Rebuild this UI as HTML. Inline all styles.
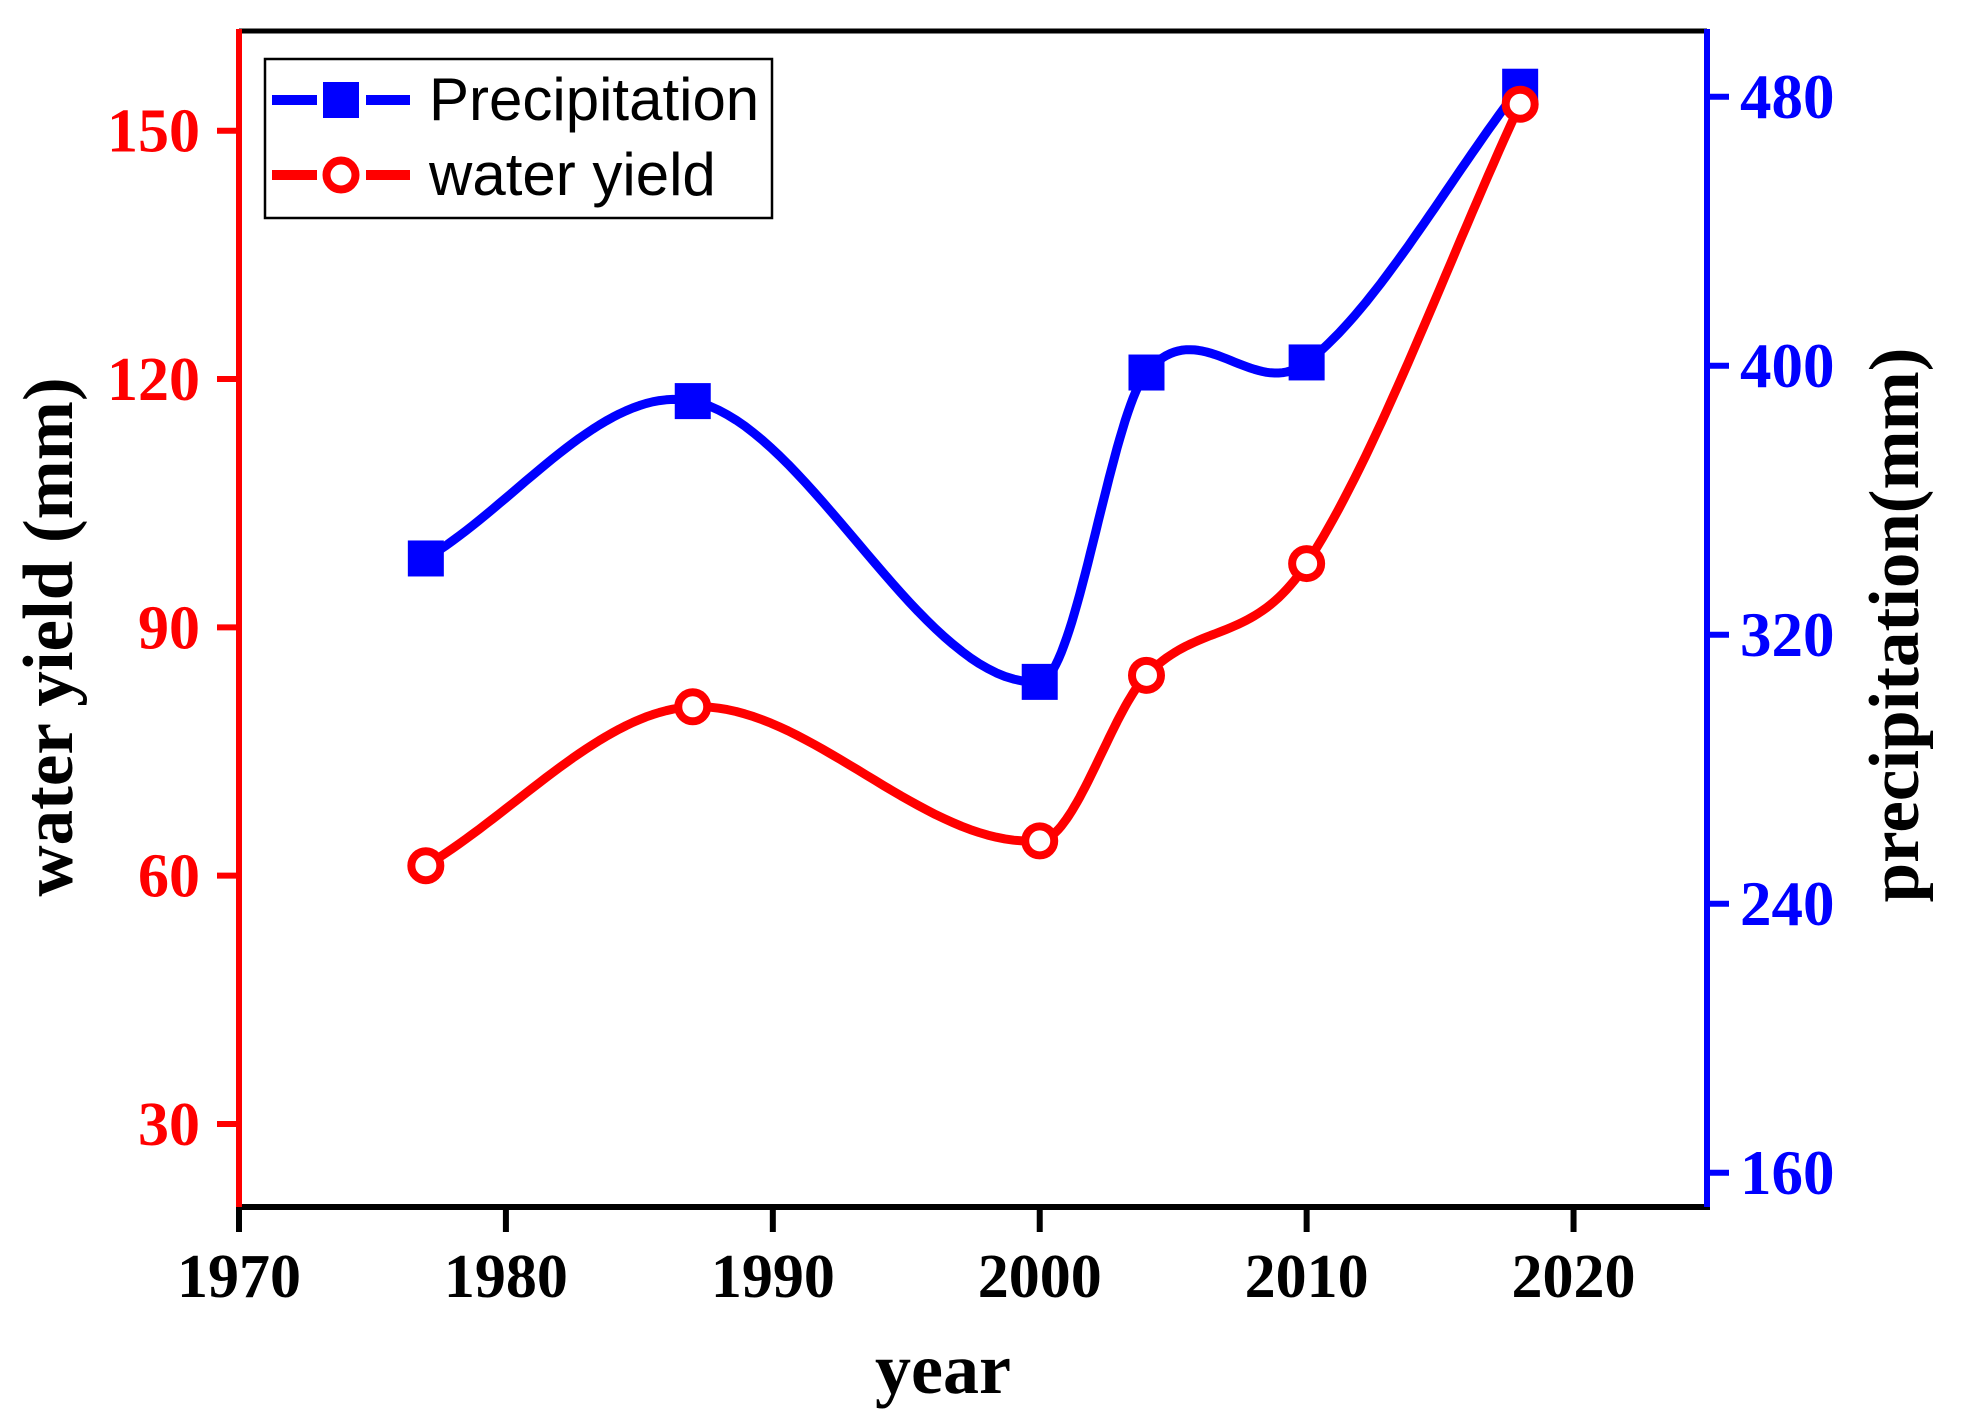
<!DOCTYPE html>
<html><head><meta charset="utf-8"><style>
html,body{margin:0;padding:0;background:#fff;}
svg{display:block;}
</style></head><body>
<svg id="chart" width="1970" height="1426" viewBox="0 0 1970 1426" xmlns="http://www.w3.org/2000/svg"></svg>
<script>
const years = [1977, 1987, 2000, 2004, 2010, 2018];
const precipitation = [342.7, 389.5, 306, 398, 401, 483];
const waterYield = [61.2, 80.4, 64.2, 84.2, 97.7, 153.2];
const xTicks = [1970, 1980, 1990, 2000, 2010, 2020];
const leftTicks = [30, 60, 90, 120, 150];
const rightTicks = [160, 240, 320, 400, 480];

const NS = 'http://www.w3.org/2000/svg';
const svg = document.getElementById('chart');
const L = 239, R = 1707, T = 31, B = 1207;
const xS = v => L + (v - 1970) / 55 * (R - L);
const yL = v => 130.7 + (150 - v) * 8.277;
const yR = v => 96.8 + (480 - v) * 3.3625;

function mk(tag, attrs, parent) {
  const e = document.createElementNS(NS, tag);
  for (const k in attrs) e.setAttribute(k, attrs[k]);
  (parent || svg).appendChild(e);
  return e;
}
function spline(xs, ys) {
  const n = xs.length, m = [];
  for (let i = 0; i < n; i++) {
    if (i === 0) m.push((ys[1] - ys[0]) / (xs[1] - xs[0]));
    else if (i === n - 1) m.push((ys[n - 1] - ys[n - 2]) / (xs[n - 1] - xs[n - 2]));
    else m.push((ys[i + 1] - ys[i - 1]) / (xs[i + 1] - xs[i - 1]));
  }
  const pts = [];
  for (let i = 0; i < n - 1; i++) {
    const h = xs[i + 1] - xs[i];
    for (let s = 0; s <= 40; s++) {
      const t = s / 40, t2 = t * t, t3 = t2 * t;
      const y = (2 * t3 - 3 * t2 + 1) * ys[i] + (t3 - 2 * t2 + t) * h * m[i] + (-2 * t3 + 3 * t2) * ys[i + 1] + (t3 - t2) * h * m[i + 1];
      pts.push([xs[i] + t * h, y]);
    }
  }
  return pts;
}

let e;
e = mk('line', {x1: L, y1: T, x2: R, y2: T, stroke: '#000', 'stroke-width': 5});
 
e = mk('line', {x1: L - 3, y1: B, x2: R + 3, y2: B, stroke: '#000', 'stroke-width': 6});
 
e = mk('line', {x1: L, y1: T - 2, x2: L, y2: B, stroke: '#ff0000', 'stroke-width': 6});
 
e = mk('line', {x1: R, y1: T - 2, x2: R, y2: B, stroke: '#0000ff', 'stroke-width': 6});
 

xTicks.forEach(v => {
  const t = mk('line', {x1: xS(v), y1: B, x2: xS(v), y2: B + 25, stroke: '#000', 'stroke-width': 6});
   
  const tx = mk('text', {x: xS(v), y: 1297, 'text-anchor': 'middle', 'font-family': 'Liberation Serif, serif', 'font-weight': 'bold', 'font-size': 62, fill: '#000'});
  tx.textContent = v;
   
});
leftTicks.forEach(v => {
  const t = mk('line', {x1: L - 22, y1: yL(v), x2: L, y2: yL(v), stroke: '#ff0000', 'stroke-width': 6});
   
  const tx = mk('text', {x: 200, y: yL(v) + 21, 'text-anchor': 'end', 'font-family': 'Liberation Serif, serif', 'font-weight': 'bold', 'font-size': 62, fill: '#ff0000'});
  tx.textContent = v;
   
});
rightTicks.forEach(v => {
  const t = mk('line', {x1: R, y1: yR(v), x2: R + 22, y2: yR(v), stroke: '#0000ff', 'stroke-width': 6});
   
  const tx = mk('text', {x: 1740, y: yR(v) + 21, 'text-anchor': 'start', 'font-family': 'Liberation Serif, serif', 'font-weight': 'bold', 'font-size': 63, fill: '#0000ff'});
  tx.textContent = v;
   
});

e = mk('text', {x: 943, y: 1393, 'text-anchor': 'middle', 'font-family': 'Liberation Serif, serif', 'font-weight': 'bold', 'font-size': 72, fill: '#000'});
e.textContent = 'year';
 
e = mk('text', {x: 0, y: 0, transform: 'translate(72,637) rotate(-90)', 'text-anchor': 'middle', 'font-family': 'Liberation Serif, serif', 'font-weight': 'bold', 'font-size': 71, fill: '#000'});
e.textContent = 'water yield (mm)';
 
e = mk('text', {x: 0, y: 0, transform: 'translate(1918,625) rotate(-90)', 'text-anchor': 'middle', 'font-family': 'Liberation Serif, serif', 'font-weight': 'bold', 'font-size': 71, fill: '#000'});
e.textContent = 'precipitation(mm)';
 

function drawSeries(vals, yf, color, name) {
  const pts = spline(years, vals).map(p => xS(p[0]).toFixed(1) + ',' + yf(p[1]).toFixed(1));
  const pl = mk('polyline', {points: pts.join(' '), fill: 'none', stroke: color, 'stroke-width': 9, 'stroke-linejoin': 'round'});
   
}
drawSeries(precipitation, yR, '#0000ff', 'precipitation');
drawSeries(waterYield, yL, '#ff0000', 'water-yield');
years.forEach((yr, i) => {
  const m = mk('rect', {x: xS(yr) - 18, y: yR(precipitation[i]) - 18, width: 36, height: 36, fill: '#0000ff'});
   
});
years.forEach((yr, i) => {
  const m = mk('circle', {cx: xS(yr), cy: yL(waterYield[i]), r: 14.5, fill: '#fff', stroke: '#ff0000', 'stroke-width': 8});
   
});

const lg = mk('g', {});
 
mk('rect', {x: 265, y: 59, width: 507, height: 159, fill: '#fff', stroke: '#000', 'stroke-width': 2.5}, lg);
e = mk('g', {}, lg);
 
mk('line', {x1: 272, y1: 100, x2: 317, y2: 100, stroke: '#0000ff', 'stroke-width': 10}, e);
mk('line', {x1: 366, y1: 100, x2: 410, y2: 100, stroke: '#0000ff', 'stroke-width': 10}, e);
mk('rect', {x: 323, y: 82, width: 36, height: 36, fill: '#0000ff'}, e);
let t = mk('text', {x: 429, y: 120, 'font-family': 'Liberation Sans, sans-serif', 'font-size': 60, fill: '#000'}, e);
t.textContent = 'Precipitation';
e = mk('g', {}, lg);
 
mk('line', {x1: 272, y1: 175, x2: 317, y2: 175, stroke: '#ff0000', 'stroke-width': 10}, e);
mk('line', {x1: 366, y1: 175, x2: 410, y2: 175, stroke: '#ff0000', 'stroke-width': 10}, e);
mk('circle', {cx: 341, cy: 175, r: 14.5, fill: '#fff', stroke: '#ff0000', 'stroke-width': 8}, e);
t = mk('text', {x: 429, y: 195, 'font-family': 'Liberation Sans, sans-serif', 'font-size': 60, fill: '#000'}, e);
t.textContent = 'water yield';
</script>
</body></html>
